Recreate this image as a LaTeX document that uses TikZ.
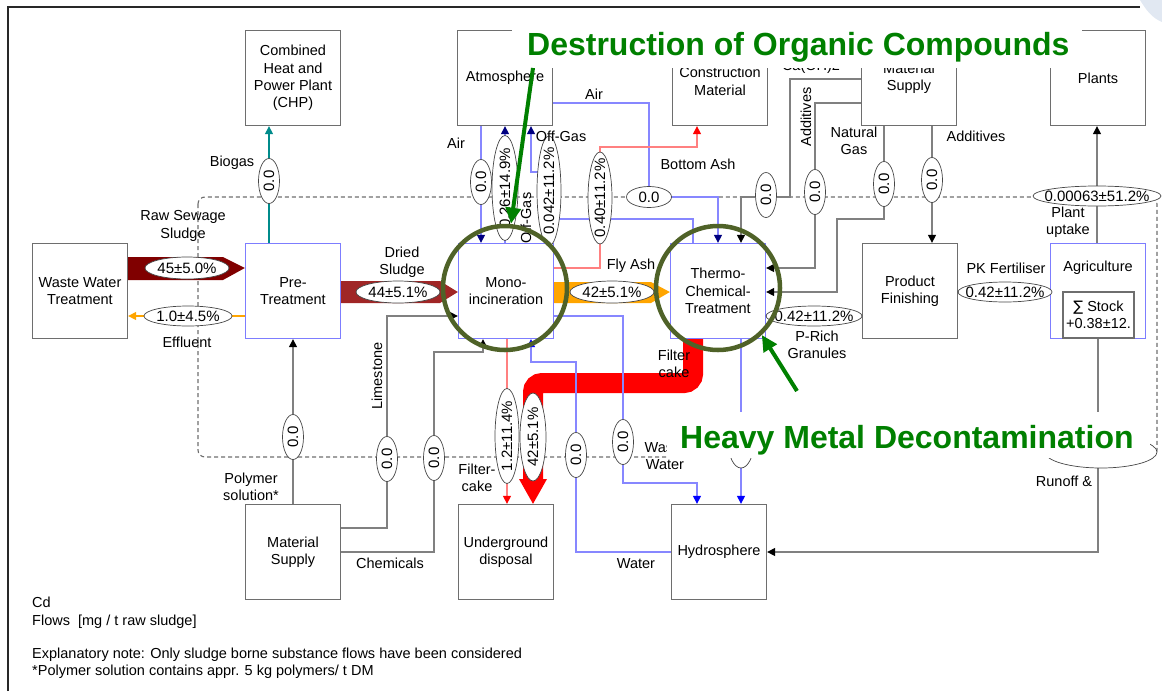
\documentclass[tikz,border=0pt]{standalone}
\usepackage{fontspec}
\setmainfont{Liberation Sans}
\newfontfamily\symtxt{DejaVu Sans}
\usetikzlibrary{arrows.meta,shapes.geometric,backgrounds}

\definecolor{boxgray}{RGB}{110,110,110}
\definecolor{boxblue}{RGB}{125,125,255}
\definecolor{flowgray}{RGB}{128,128,128}
\definecolor{flowblue}{RGB}{135,135,255}
\definecolor{tipnavy}{RGB}{0,0,128}
\definecolor{tipblue}{RGB}{0,0,255}
\definecolor{rawred}{RGB}{128,0,0}
\definecolor{driedred}{RGB}{160,38,38}
\definecolor{flyorange}{RGB}{255,165,0}
\definecolor{ashpink}{RGB}{255,128,128}
\definecolor{biogasteal}{RGB}{0,139,139}
\definecolor{ringolive}{RGB}{79,98,40}
\definecolor{bannergreen}{RGB}{0,128,0}
\definecolor{valedge}{RGB}{70,70,70}
\definecolor{cornerblue}{RGB}{225,232,242}
\definecolor{framegray}{RGB}{40,40,40}

\newcommand\boxtxt{\fontsize{14.5}{17.2}\selectfont}
\newcommand\valtxt{\fontsize{15}{17}\selectfont}
\newcommand\bannertxt{\fontsize{32}{36}\selectfont\bfseries}

\tikzset{
  unitbox/.style={draw=boxgray, line width=1.3pt, minimum width=95pt, minimum height=95pt, inner sep=0pt, align=center, font=\boxtxt},
  procbox/.style={unitbox, draw=boxblue},
  val/.style={ellipse, draw=valedge, fill=white, line width=0.7pt, inner xsep=-14pt, inner ysep=-4pt, font=\valtxt},
  hval/.style={val, minimum width=45pt, minimum height=21pt},
  vval/.style={val, rotate=90, minimum width=45pt, minimum height=21pt},
  lbl/.style={font=\boxtxt, align=center, inner sep=0pt},
  flowline/.style={line width=1.2pt, draw=flowgray},
  gflow/.style={flowline, -{Triangle[length=8pt,width=8pt,color=black]}},
  airflow/.style={flowline, draw=flowblue, -{Triangle[length=8pt,width=8pt,color=tipnavy]}},
  wflow/.style={flowline, draw=flowblue, -{Triangle[length=8pt,width=8pt,color=tipblue]}},
  ashflow/.style={flowline, draw=ashpink, -{Triangle[length=8pt,width=8pt,color=red]}},
  boundary/.style={draw=boxgray, line width=1.1pt, dash pattern=on 4pt off 3pt, rounded corners=7pt},
  banner/.style={font=\bannertxt, text=bannergreen, inner sep=0pt},
  ring/.style={circle, draw=ringolive, line width=4.5pt, minimum size=124pt, inner sep=0pt},
  pointer/.style={draw=bannergreen, line width=4pt, -{Triangle[length=16pt,width=15pt]}}
}

\begin{document}
\begin{tikzpicture}[x=1pt, y=-1pt]
\useasboundingbox (0,0) rectangle (1162,691);
\fill[cornerblue] (1140,0) -- (1162,0) -- (1162,22) .. controls (1152,18) and (1146,10) .. (1140,0);
\draw[framegray, line width=1.6pt] (8,691) -- (8,7) -- (1140,7);

% processes
\node[unitbox] (chp) at (293,78) {Combined\\Heat and\\Power Plant\\(CHP)};
\node[unitbox] (atmo) at (505,78) {Atmosphere};
\node[unitbox] (constr) at (720,78) {\mbox{}\\Construction\\Material};
\node[unitbox] (supplyTop) at (909,78) {Material\\Supply};
\node[unitbox] (plants) at (1098,78) {Plants};
\node[unitbox] (wwt) at (80,291) {Waste Water\\Treatment};
\node[procbox] (pre) at (293,291) {Pre-\\Treatment};
\node[procbox] (mono) at (506,291) {Mono-\\incineration};
\node[procbox] (thermo) at (718,291) {Thermo-\\Chemical-\\Treatment};
\node[unitbox] (finish) at (910,291) {Product\\Finishing};
\node[procbox] (agri) at (1098,291) {};
\node[lbl] (agriname) at (1098,268) {Agriculture};
\node[unitbox, minimum width=71pt, minimum height=46pt] (stock) at (1098.5,315) {{\symtxt ∑} Stock\\+0.38±12.};
\node[unitbox] (supplyBot) at (293,552) {Material\\Supply};
\node[unitbox] (under) at (506,552) {Underground\\disposal};
\node[unitbox] (hydro) at (719,552) {Hydrosphere};

% flow values
\node[hval, minimum width=84pt, minimum height=22pt] (eRaw) at (187,268) {45±5.0\%};
\node[hval, minimum width=88pt, minimum height=20pt] (eEff) at (188,316) {1.0±4.5\%};
\node[hval, minimum width=84pt, minimum height=22pt] (eDried) at (398,292) {44±5.1\%};
\node[hval, minimum width=84pt, minimum height=22pt] (eFly) at (612,292) {42±5.1\%};
\node[hval] (eAirT) at (649,197) {0.0};
\node[hval, minimum width=96pt, minimum height=20pt] (eGran) at (814,316) {0.42±11.2\%};
\node[hval, minimum width=94pt, minimum height=20pt] (ePK) at (1005,292) {0.42±11.2\%};
\node[hval, minimum width=128pt, minimum height=20pt] (eUptake) at (1097,196) {0.00063±51.2\%};
\node[hval, minimum width=112pt, minimum height=32pt] (eRunoff) at (1101,452) {};
\node[vval] (eBio) at (269,181) {0.0};
\node[vval] (eAirM) at (481,182) {0.0};
\node[vval, minimum width=105pt, minimum height=26pt] (eOff1) at (505,188) {0.26±14.9\%};
\node[vval, minimum width=110pt, minimum height=24pt] (eOff2) at (549,191) {0.042±11.2\%};
\node[vval, minimum width=92pt, minimum height=24pt] (eBottom) at (600,198) {0.40±11.2\%};
\node[vval] (eCa) at (766,195) {0.0};
\node[vval] (eAdd1) at (815,192) {0.0};
\node[vval] (eGas) at (884,184) {0.0};
\node[vval] (eAdd2) at (932,180) {0.0};
\node[vval] (ePoly) at (293,437) {0.0};
\node[vval] (eLime) at (387,459) {0.0};
\node[vval] (eChem) at (434,458) {0.0};
\node[vval, minimum width=95pt, minimum height=24pt] (eCake1) at (507,436) {1.2±11.4\%};
\node[vval, minimum width=88pt, minimum height=26pt] (eCake2) at (533,437) {42±5.1\%};
\node[vval] (eWaterM) at (576,455) {0.0};
\node[vval] (eWaste) at (623,442) {0.0};
\node[vval, minimum width=54pt, minimum height=26pt] (eHydro) at (741,441) {};

\begin{pgfonlayer}{background}
\draw[boundary] (198,197) rectangle (1157,457);
% thick flows
\fill[rawred] (wwt.east |- 0,257) -- (223,257) -- (pre.west |- 0,268) -- (223,280) -- (wwt.east |- 0,280) -- cycle;
\fill[driedred] (pre.east |- 0,281) -- (440,281) -- (mono.west |- 0,292) -- (440,303) -- (pre.east |- 0,303) -- cycle;
\fill[flyorange] (mono.east |- 0,282) -- (651,282) -- (thermo.west |- 0,292) -- (651,303) -- (mono.east |- 0,303) -- cycle;
\draw[red, line width=20pt, rounded corners=9pt] (thermo.south -| 693,0) |- (eCake2.center |- 0,383) -- (eCake2.center |- 0,482);
\fill[red] (519,479) -- (547,479) -- (under.north -| eCake2) -- cycle;
% thin flows
\draw[flowline, draw=biogasteal, -{Triangle[length=8pt,width=8pt]}] (pre.north -| eBio) -- (chp.south -| eBio);
\draw[flowline, draw=flyorange, -{Triangle[length=8pt,width=8pt]}] (pre.west |- eEff) -- (wwt.east |- eEff);
\draw[airflow] (atmo.south -| eAirM) -- (mono.north -| eAirM);
\draw[airflow] (mono.north -| eOff1) -- (atmo.south -| eOff1);
\draw[airflow] (thermo.north -| 693,0) |- (eOff2.center |- 0,219) -- (eOff2.center |- 0,172) -| (atmo.south -| 531,0);
\draw[airflow] (atmo.east |- 0,103) -| (eAirT.center) -| (thermo.north -| 718,0);
\draw[ashflow] (mono.east |- 0,268) -| (eBottom.center) |- (697,147) -- (constr.south -| 697,0);
\draw[ashflow] (mono.south -| eCake1) -- (under.north -| eCake1);
\draw[gflow] (supplyTop.west |- 0,79) -| (790,197) -| (thermo.north -| 741,0);
\draw[gflow] (supplyTop.west |- 0,103) -| (eAdd1.center |- 0,268) -- (thermo.east |- 0,268);
\draw[gflow] (supplyTop.south -| eGas) |- (837,219) |- (thermo.east |- 0,292);
\draw[gflow] (supplyTop.south -| eAdd2) -- (finish.north -| eAdd2);
\draw[gflow] (thermo.east |- eGran) -- (finish.west |- eGran);
\draw[gflow] (finish.east |- ePK) -- (agri.west |- ePK);
\draw[gflow] (agri.north -| eUptake) -- (plants.south -| eUptake);
\draw[gflow] (agri.south) |- (hydro.east);
\draw[wflow] (thermo.south -| eHydro) -- (hydro.north -| eHydro);
\draw[wflow] (mono.east |- 0,316) -| (eWaste.center) |- (697,483) -- (hydro.north -| 697,0);
\draw[wflow] (hydro.west) -| (eWaterM.center) |- (531,362) -- (mono.south -| 531,0);
\draw[gflow] (supplyBot.north -| ePoly) -- (pre.south -| ePoly);
\draw[gflow] (supplyBot.east |- 0,528) -| (eLime.center) |- (mono.west |- 0,316);
\draw[gflow] (supplyBot.east |- 0,552) -| (eChem.center) |- (483,352) -- (mono.south -| 483,0);
\end{pgfonlayer}

% flow names
\node[lbl] (lBiogas) at (232,163) {Biogas};
\node[lbl] (lRaw) at (183,226) {Raw Sewage\\Sludge};
\node[lbl] (lEff) at (187,342) {Effluent};
\node[lbl] (lDried) at (402,262) {Dried\\Sludge};
\node[lbl, rotate=90] (lLime) at (377,376) {Limestone};
\node[lbl] (lPoly) at (251,487) {Polymer\\solution*};
\node[lbl] (lChem) at (390,563) {Chemicals};
\node[lbl] (lCake1) at (477,478) {Filter-\\cake};
\node[lbl] (lAirM) at (456,143) {Air};
\node[lbl] (lOff2) at (561,136) {Off-Gas};
\node[lbl, rotate=90] (lOff1) at (526,218) {Off-Gas};
\node[lbl] (lAirT) at (594,94) {Air};
\node[lbl] (lBottom) at (698,164) {Bottom Ash};
\node[lbl] (lFly) at (631,266) {Fly Ash};
\node[lbl] (lCake2) at (674,364) {Filter\\cake};
\node[lbl, anchor=base] (lCa) at (811,70) {Ca(OH)2};
\node[lbl, rotate=90] (lAdd1) at (806,117) {Additives};
\node[lbl] (lGas) at (854,141) {Natural\\Gas};
\node[lbl] (lAdd2) at (976,136) {Additives};
\node[lbl] (lUptake) at (1068,222) {Plant\\uptake};
\node[lbl] (lPK) at (1006,268) {PK Fertiliser};
\node[lbl] (lGran) at (817,345) {P-Rich\\Granules};
\node[lbl] (lRunoff) at (1064,481) {Runoff \&};
\node[lbl] (lWaterH) at (636,564) {Water};
\node[lbl] (lWaste) at (665,456) {Waste\\Water};

% legend
\node[lbl, anchor=base west] (legCd) at (32,607) {Cd};
\node[lbl, anchor=base west] (legUnit) at (32,625) {Flows~~[mg / t raw sludge]};
\node[lbl, anchor=base west] (legNote) at (32,658) {Explanatory note: Only sludge borne substance flows have been considered};
\node[lbl, anchor=base west] (legPoly) at (32,675) {*Polymer solution contains appr. 5 kg polymers/ t DM};

% highlights
\fill[white] (512,28) rectangle (1082,68);
\node[banner, anchor=base west] (title1) at (527,55) {Destruction of Organic Compounds};
\fill[white] (667,412) rectangle (1150,458);
\node[banner, anchor=base west] (title2) at (680,448) {Heavy Metal Decontamination};
\node[ring] (ring1) at (505,288) {};
\node[ring] (ring2) at (718,288) {};
\coordinate (hmtail) at (797,391);
\draw[pointer] ([yshift=-6pt]title1.south -| 533,0) -- (ring1.north -| 511,0);
\draw[pointer] (hmtail) -- (ring2.-47);
\end{tikzpicture}
\end{document}
